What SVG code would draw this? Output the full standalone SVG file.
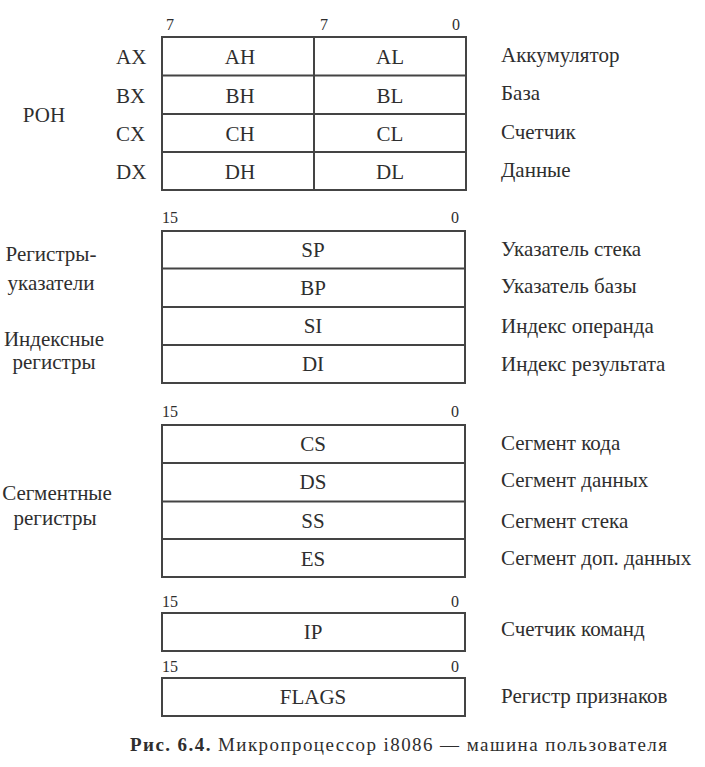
<svg xmlns="http://www.w3.org/2000/svg" width="705" height="767" viewBox="0 0 705 767">
<defs>
<rect id="row2" width="303" height="38"/>
</defs>
<rect width="705" height="767" fill="#fff"/>
<g id="bits" font-family="Times New Roman" font-size="16" fill="#2e2e2e">
<text font-family="Times New Roman" x="166" y="30">7</text>
<text font-family="Times New Roman" x="320" y="30">7</text>
<text font-family="Times New Roman" x="452" y="30">0</text>
<text font-family="Times New Roman" x="162" y="223">15</text>
<text font-family="Times New Roman" x="451" y="223">0</text>
<text font-family="Times New Roman" x="162" y="417">15</text>
<text font-family="Times New Roman" x="451" y="417">0</text>
<text font-family="Times New Roman" x="162" y="607">15</text>
<text font-family="Times New Roman" x="451" y="607">0</text>
<text font-family="Times New Roman" x="162" y="672">15</text>
<text font-family="Times New Roman" x="451" y="672">0</text>
</g>
<g id="groups" font-family="Times New Roman" font-size="21" fill="#2e2e2e" text-anchor="middle">
<text font-family="Times New Roman" x="44" y="122">РОН</text>
<text font-family="Times New Roman" x="51" y="261">Регистры-</text>
<text font-family="Times New Roman" x="51" y="290">указатели</text>
<text font-family="Times New Roman" x="54" y="346">Индексные</text>
<text font-family="Times New Roman" x="54" y="369">регистры</text>
<text font-family="Times New Roman" x="57" y="500">Сегментные</text>
<text font-family="Times New Roman" x="55" y="525">регистры</text>
</g>
<g id="gpr" font-family="Times New Roman" font-size="21" fill="#2e2e2e">
<rect x="162" y="37" width="304" height="153" fill="#fff" stroke="#444" stroke-width="2"/>
<path d="M162 75.5H466M162 114H466M162 152H466M314 37V190" stroke="#444" stroke-width="2" fill="none"/>
<text font-family="Times New Roman" x="116" y="64">AX</text>
<text font-family="Times New Roman" x="116" y="103">BX</text>
<text font-family="Times New Roman" x="116" y="141">CX</text>
<text font-family="Times New Roman" x="116" y="179">DX</text>
<g text-anchor="middle">
<text font-family="Times New Roman" x="240" y="64">AH</text>
<text font-family="Times New Roman" x="390" y="64">AL</text>
<text font-family="Times New Roman" x="240" y="103">BH</text>
<text font-family="Times New Roman" x="390" y="103">BL</text>
<text font-family="Times New Roman" x="240" y="141">CH</text>
<text font-family="Times New Roman" x="390" y="141">CL</text>
<text font-family="Times New Roman" x="240" y="179">DH</text>
<text font-family="Times New Roman" x="390" y="179">DL</text>
</g>
</g>
<g id="ptr" font-family="Times New Roman" font-size="21" fill="#2e2e2e" text-anchor="middle">
<rect x="162" y="231" width="303" height="152" fill="#fff" stroke="#444" stroke-width="2"/>
<path d="M162 268.5H465M162 307H465M162 345H465" stroke="#444" stroke-width="2" fill="none"/>
<text font-family="Times New Roman" x="313" y="257">SP</text>
<text font-family="Times New Roman" x="313" y="295">BP</text>
<text font-family="Times New Roman" x="313" y="333">SI</text>
<text font-family="Times New Roman" x="313" y="371">DI</text>
</g>
<g id="seg" font-family="Times New Roman" font-size="21" fill="#2e2e2e" text-anchor="middle">
<rect x="162" y="425" width="303" height="152" fill="#fff" stroke="#444" stroke-width="2"/>
<path d="M162 463H465M162 501.5H465M162 539H465" stroke="#444" stroke-width="2" fill="none"/>
<text font-family="Times New Roman" x="313" y="451">CS</text>
<text font-family="Times New Roman" x="313" y="489">DS</text>
<text font-family="Times New Roman" x="313" y="528">SS</text>
<text font-family="Times New Roman" x="313" y="566">ES</text>
</g>
<g id="ip" font-family="Times New Roman" font-size="21" fill="#2e2e2e" text-anchor="middle">
<use href="#row2" x="162" y="613" fill="#fff" stroke="#444" stroke-width="2"/>
<text font-family="Times New Roman" x="313" y="639">IP</text>
</g>
<g id="flags" font-family="Times New Roman" font-size="21" fill="#2e2e2e" text-anchor="middle">
<use href="#row2" x="162" y="678" fill="#fff" stroke="#444" stroke-width="2"/>
<text font-family="Times New Roman" x="313" y="704">FLAGS</text>
</g>
<g id="desc" font-family="Times New Roman" font-size="21" fill="#2e2e2e">
<text font-family="Times New Roman" x="501" y="62">Аккумулятор</text>
<text font-family="Times New Roman" x="501" y="100">База</text>
<text font-family="Times New Roman" x="501" y="139">Счетчик</text>
<text font-family="Times New Roman" x="501" y="177">Данные</text>
<text font-family="Times New Roman" x="501" y="256">Указатель стека</text>
<text font-family="Times New Roman" x="501" y="293">Указатель базы</text>
<text font-family="Times New Roman" x="501" y="333">Индекс операнда</text>
<text font-family="Times New Roman" x="501" y="371">Индекс результата</text>
<text font-family="Times New Roman" x="501" y="450">Сегмент кода</text>
<text font-family="Times New Roman" x="501" y="487">Сегмент данных</text>
<text font-family="Times New Roman" x="501" y="528">Сегмент стека</text>
<text font-family="Times New Roman" x="501" y="565">Сегмент доп. данных</text>
<text font-family="Times New Roman" x="501" y="636">Счетчик команд</text>
<text font-family="Times New Roman" x="501" y="703">Регистр признаков</text>
</g>
<text font-family="Times New Roman" x="130" y="751" font-size="19" fill="#2e2e2e" textLength="537" lengthAdjust="spacing"><tspan font-weight="bold">Рис. 6.4.</tspan> Микропроцессор i8086 — машина пользователя</text>
</svg>
